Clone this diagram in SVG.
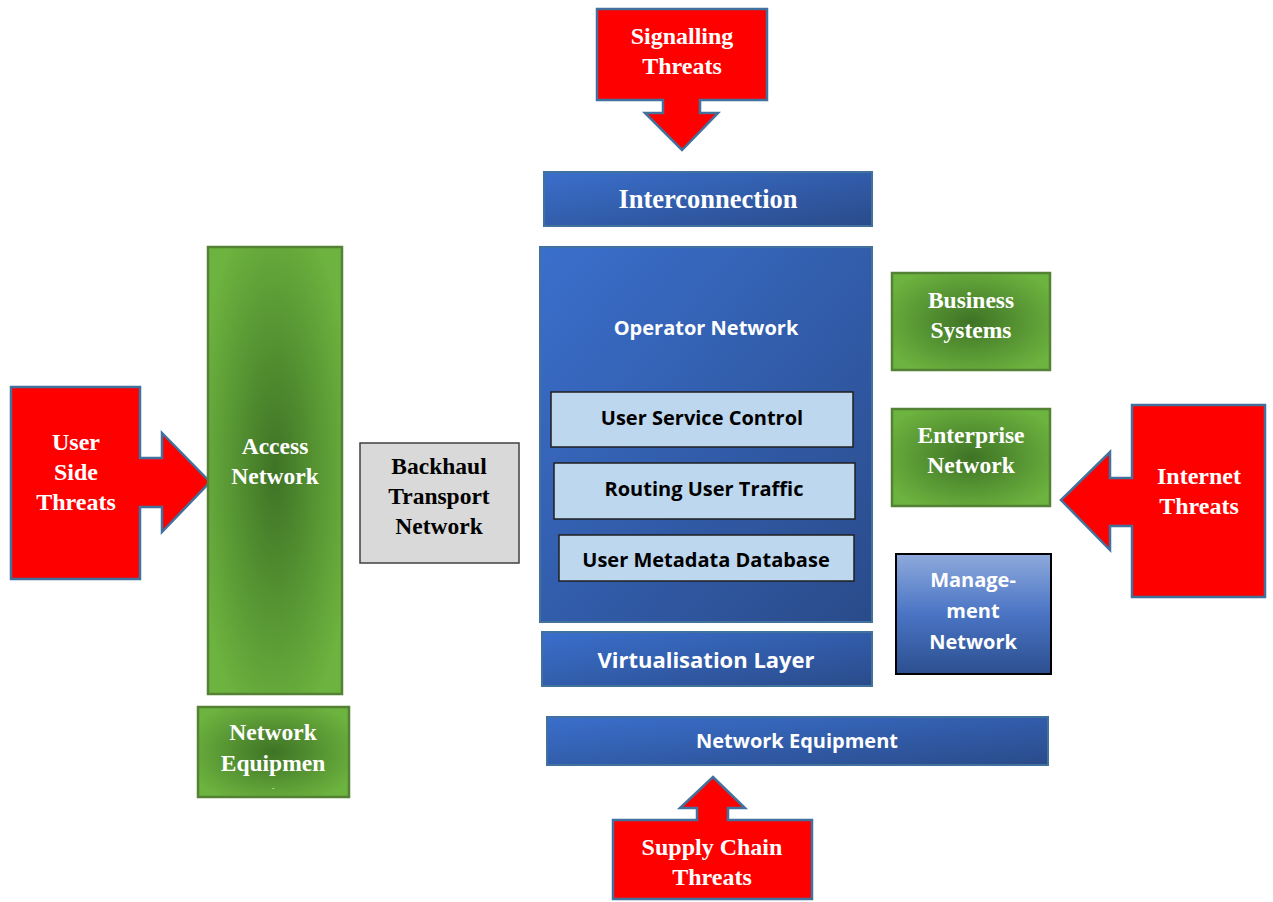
<svg xmlns="http://www.w3.org/2000/svg" width="1273" height="902" viewBox="0 0 1273 902">
<defs>
<linearGradient id="blue" x1="0" y1="0" x2="1" y2="1">
<stop offset="0" stop-color="#3a6fcc"/>
<stop offset="1" stop-color="#2a4b8a"/>
</linearGradient>
<linearGradient id="mgmt" x1="0" y1="0" x2="0" y2="1">
<stop offset="0" stop-color="#8eaadc"/>
<stop offset="0.5" stop-color="#4a74c4"/>
<stop offset="1" stop-color="#2c4f8f"/>
</linearGradient>
<radialGradient id="green" cx="0.5" cy="0.5" r="0.6">
<stop offset="0" stop-color="#3e7325"/>
<stop offset="1" stop-color="#6db33f"/>
</radialGradient>
<clipPath id="neClip"><rect x="198" y="707" width="151" height="82"/></clipPath>
<style>
.threat{fill:#ff0000;stroke:#41719c;stroke-width:2.5;stroke-linejoin:miter}
.blue{fill:url(#blue);stroke:#41719c;stroke-width:2}
.sub{fill:#bdd7ee;stroke:#1f1f1f;stroke-width:1.5}
.grn{fill:url(#green);stroke:#548235;stroke-width:2.5}
.serif{font-family:"Liberation Serif","Times New Roman",serif;font-weight:bold;fill:#ffffff;text-anchor:middle}
.sans{font-family:"Open Sans","Liberation Sans",Arial,sans-serif;font-weight:bold;fill:#ffffff;text-anchor:middle}
.dark{fill:#000000}
</style>
</defs>

<g id="connectors"></g>

<g id="signalling-threats">
<path class="threat" d="M597,9 H767 V100 H700 V113 H718 L682,150 L645,113 H663 V100 H597 Z"/>
<text class="serif" font-size="24" x="682" y="44">Signalling</text>
<text class="serif" font-size="24" x="682" y="74">Threats</text>
</g>

<g id="user-side-threats">
<path class="threat" d="M11,387 H140 V458 H162 V433 L210,482 L162,532 V507 H140 V579 H11 Z"/>
<text class="serif" font-size="24" x="76" y="450">User</text>
<text class="serif" font-size="24" x="76" y="480">Side</text>
<text class="serif" font-size="24" x="76" y="510">Threats</text>
</g>

<g id="internet-threats">
<path class="threat" d="M1132,405 H1265 V597 H1132 V526 H1110 V550 L1061,500 L1110,452 V478 H1132 Z"/>
<text class="serif" font-size="24" x="1199" y="484">Internet</text>
<text class="serif" font-size="24" x="1199" y="514">Threats</text>
</g>

<g id="supply-chain-threats">
<path class="threat" d="M613,820 H697 V808 H680 L713,777 L745,808 H728 V820 H812 V899 H613 Z"/>
<text class="serif" font-size="24" x="712" y="855">Supply Chain</text>
<text class="serif" font-size="24" x="712" y="885">Threats</text>
</g>

<g id="interconnection">
<rect class="blue" x="544" y="172" width="328" height="54"/>
<text class="serif" font-size="26.5" x="708" y="208">Interconnection</text>
</g>

<g id="operator-network">
<rect class="blue" x="540" y="247" width="332" height="375"/>
<text class="sans" font-size="20" x="706" y="335">Operator Network</text>
</g>

<g id="user-service-control">
<rect class="sub" x="551" y="392" width="302" height="55"/>
<text class="sans dark" font-size="20" x="702" y="425">User Service Control</text>
</g>

<g id="routing-user-traffic">
<rect class="sub" x="554" y="463" width="301" height="56"/>
<text class="sans dark" font-size="20" x="704" y="496">Routing User Traffic</text>
</g>

<g id="user-metadata-database">
<rect class="sub" x="559" y="535" width="295" height="46"/>
<text class="sans dark" font-size="20" x="706" y="567">User Metadata Database</text>
</g>

<g id="virtualisation-layer">
<rect class="blue" x="542" y="632" width="330" height="54"/>
<text class="sans" font-size="22" x="706" y="668">Virtualisation Layer</text>
</g>

<g id="network-equipment">
<rect class="blue" x="547" y="717" width="501" height="48"/>
<text class="sans" font-size="20" x="797" y="748">Network Equipment</text>
</g>

<g id="management-network">
<rect x="896" y="554" width="155" height="120" fill="url(#mgmt)" stroke="#000000" stroke-width="2"/>
<text class="sans" font-size="20" x="973" y="587">Manage-</text>
<text class="sans" font-size="20" x="973" y="618">ment</text>
<text class="sans" font-size="20" x="973" y="649">Network</text>
</g>

<g id="business-systems">
<rect class="grn" x="892" y="273" width="158" height="97"/>
<text class="serif" font-size="23.5" x="971" y="308">Business</text>
<text class="serif" font-size="23.5" x="971" y="338">Systems</text>
</g>

<g id="enterprise-network">
<rect class="grn" x="892" y="409" width="158" height="97"/>
<text class="serif" font-size="23.5" x="971" y="443">Enterprise</text>
<text class="serif" font-size="23.5" x="971" y="473">Network</text>
</g>

<g id="access-network">
<rect class="grn" x="208" y="247" width="134" height="447"/>
<text class="serif" font-size="23.5" x="275" y="454">Access</text>
<text class="serif" font-size="23.5" x="275" y="484">Network</text>
</g>

<g id="network-equipment-left">
<rect class="grn" x="198" y="707" width="151" height="90"/>
<g clip-path="url(#neClip)">
<text class="serif" font-size="23.5" x="273" y="740">Network</text>
<text class="serif" font-size="23.5" x="273" y="771">Equipmen</text>
<text class="serif" font-size="23.5" x="273" y="802">t</text>
</g>
</g>

<g id="backhaul-transport-network">
<rect x="360" y="443" width="159" height="120" fill="#d9d9d9" stroke="#404040" stroke-width="1.5"/>
<text class="serif dark" font-size="23.5" x="439" y="474">Backhaul</text>
<text class="serif dark" font-size="23.5" x="439" y="504">Transport</text>
<text class="serif dark" font-size="23.5" x="439" y="534">Network</text>
</g>
</svg>
